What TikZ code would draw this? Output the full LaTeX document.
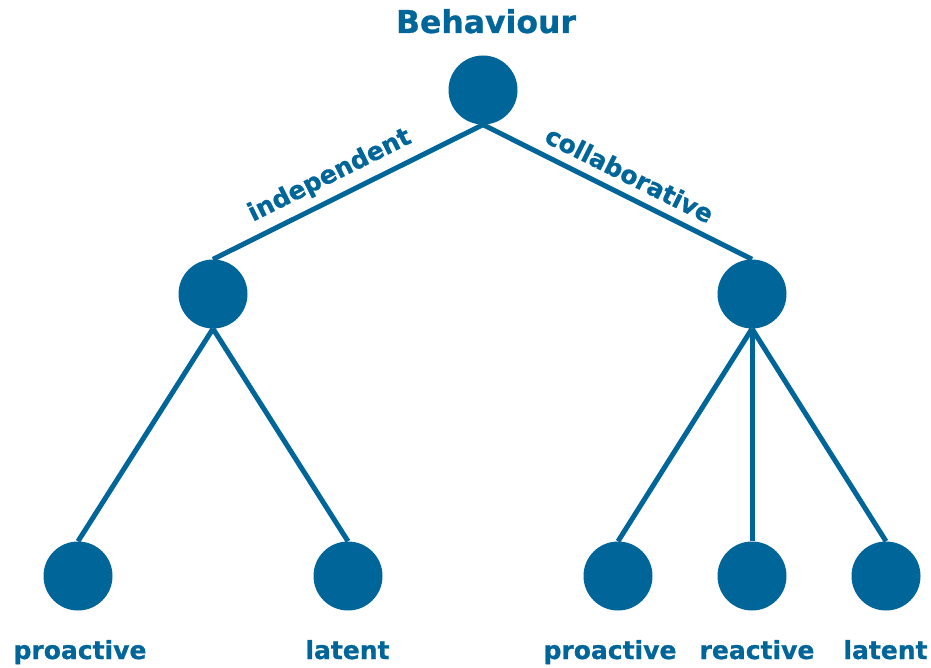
\documentclass[tikz,border=0pt]{standalone}
\usepackage{fontspec}
\setmainfont{DejaVu Sans}
\newfontfamily\heavy{DejaVu Sans Bold}[FakeBold=0.8]
\definecolor{tblue}{RGB}{0,101,153}
\begin{document}
\begin{tikzpicture}[x=1pt,y=-1pt,
  dot/.style={circle,fill=tblue,draw=none,minimum size=69pt,inner sep=0pt},
  edge/.style={draw=tblue,line width=5pt},
  leaflabel/.style={text=tblue,font=\heavy\fontsize{25}{30}\selectfont,anchor=base,inner sep=0pt},
  edgelabel/.style={text=tblue,font=\heavy\fontsize{25}{30}\selectfont,sloped,inner sep=0pt}]
\useasboundingbox (0,0) rectangle (931,668);
\node[dot] (root) at (483,90) {};
\node[dot] (m1) at (213,294) {};
\node[dot] (m2) at (752,294) {};
\node[dot] (l1) at (78,576) {};
\node[dot] (l2) at (348,576) {};
\node[dot] (r1) at (618,576) {};
\node[dot] (r2) at (752,576) {};
\node[dot] (r3) at (886,576) {};
\node[text=tblue,font=\heavy\fontsize{31.5}{36}\selectfont,anchor=base,inner sep=0pt] (title) at (486,33) {Behaviour};
\draw[edge] (root.south) -- node[edgelabel,pos=0.53,above=8pt] (lbind) {independent} (m1.north);
\draw[edge] (root.south) -- node[edgelabel,pos=0.51,above=9pt] (lbcol) {collaborative} (m2.north);
\draw[edge] (m1.south) -- (l1.north);
\draw[edge] (m1.south) -- (l2.north);
\draw[edge] (m2.south) -- (r1.north);
\draw[edge] (m2.south) -- (r2.north);
\draw[edge] (m2.south) -- (r3.north);
\node[leaflabel] (t1) at (80,659) {proactive};
\node[leaflabel] (t2) at (347.5,659) {latent};
\node[leaflabel] (t3) at (610,659) {proactive};
\node[leaflabel] (t4) at (757,659) {reactive};
\node[leaflabel] (t5) at (885.5,659) {latent};
\end{tikzpicture}
\end{document}
